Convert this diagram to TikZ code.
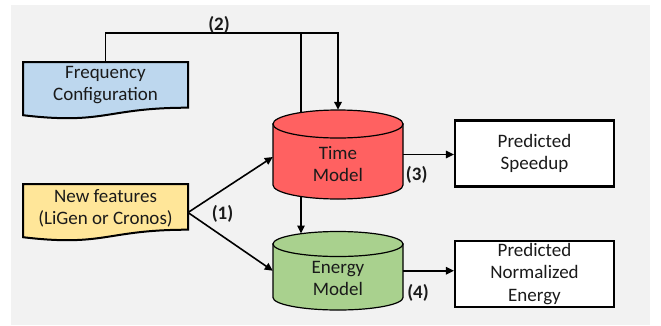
\documentclass[tikz,border=0pt]{standalone}
\usepackage{fontspec}
\setmainfont{Carlito}
\usetikzlibrary{arrows.meta}
\definecolor{panel}{HTML}{F2F2F2}
\definecolor{freqblue}{HTML}{BDD7EE}
\definecolor{featyellow}{HTML}{FFE699}
\definecolor{timered}{HTML}{FF6161}
\definecolor{energygreen}{HTML}{A9D18E}
\definecolor{ink}{HTML}{1A1A1A}
\begin{document}
\begin{tikzpicture}[x=1pt,y=-1pt,
  txt/.style={font=\fontsize{19}{22}\selectfont, text=ink, align=center, inner sep=0pt},
  lbl/.style={font=\fontsize{19}{22}\selectfont\bfseries, text=ink, inner sep=0pt},
  docshape/.style={draw=black, line width=2pt, line join=miter},
  outbox/.style={txt, draw=black, line width=2.2pt, fill=white,
    minimum width=159pt, minimum height=66pt},
  cylframe/.style={minimum width=130pt, inner sep=0pt},
  cyl/.style={draw=black, line width=1.2pt},
  conn/.style={line width=1.6pt},
  arr/.style={conn, -{Triangle[length=8pt,width=7.5pt]}},
]
\useasboundingbox (0,0) rectangle (661,325);
\fill[panel] (11,5) rectangle (650,325);

% --- input documents ---
\draw[docshape, fill=freqblue] (23,62) -- (188,62) -- (188,107.7)
  .. controls (105.5,107.7) and (105.5,125) .. (23,115.2) -- cycle;
\node[txt, minimum width=165pt, minimum height=46pt] (fc) at (105.5,85)
  {Frequency\\Configuration};

\draw[docshape, fill=featyellow] (23,184) -- (188,184) -- (188,229.7)
  .. controls (105.5,229.7) and (105.5,247) .. (23,237.2) -- cycle;
\node[txt, minimum width=165pt, minimum height=48pt] (nf) at (105.5,208)
  {New features\\(LiGen or Cronos)};

% --- frames of the two model cylinders (used as connector anchors) ---
\node[cylframe, minimum height=89pt] (tm) at (338,154.5) {};
\node[cylframe, minimum height=78.5pt] (em) at (338,270.75) {};

% --- frequency feed: to the time model and, behind it, to the energy model ---
\coordinate (bend) at (338,33);
\coordinate (split) at (301,33);
\coordinate (emtop) at (301,233.5);
\draw[arr] (fc.north) |- (bend) -- (tm.north);
\draw[arr] (split) -- (emtop);
\node[lbl] (l2) at (219,25) {(2)};

% --- time model cylinder ---
\filldraw[cyl, fill=timered] (273,124) -- (273,185)
  arc[start angle=180, end angle=0, x radius=65, y radius=14] -- (403,124) -- cycle;
\filldraw[cyl, fill=timered] (338,124) ellipse [x radius=65, y radius=14];
\node[txt] (tmt) at (338,164) {Time\\Model};

% --- energy model cylinder ---
\filldraw[cyl, fill=energygreen] (273,244) -- (273,297.5)
  arc[start angle=180, end angle=0, x radius=65, y radius=12.5] -- (403,244) -- cycle;
\filldraw[cyl, fill=energygreen] (338,244) ellipse [x radius=65, y radius=12.5];
\node[txt] (emt) at (338,278.5) {Energy\\Model};

% --- outputs ---
\node[outbox] (sp) at (534.5,153.5) {Predicted\\Speedup};
\node[outbox, font=\fontsize{19}{22.5}\selectfont] (ne) at (534.5,274)
  {Predicted\\Normalized\\Energy};

% --- feature inputs ---
\coordinate (nfo) at (188,212.5);
\draw[arr] (nfo) -- ([yshift=-2.5pt]tm.west);
\draw[arr] (nfo) -- (em.west);
\node[lbl] (l1) at (222.5,214) {(1)};

% --- predictions ---
\draw[arr] (tm.east) -- (tm.east -| sp.west);
\draw[arr] (em.east) -- (em.east -| ne.west);
\node[lbl] (l3) at (416.7,175) {(3)};
\node[lbl] (l4) at (418,293) {(4)};
\end{tikzpicture}
\end{document}
